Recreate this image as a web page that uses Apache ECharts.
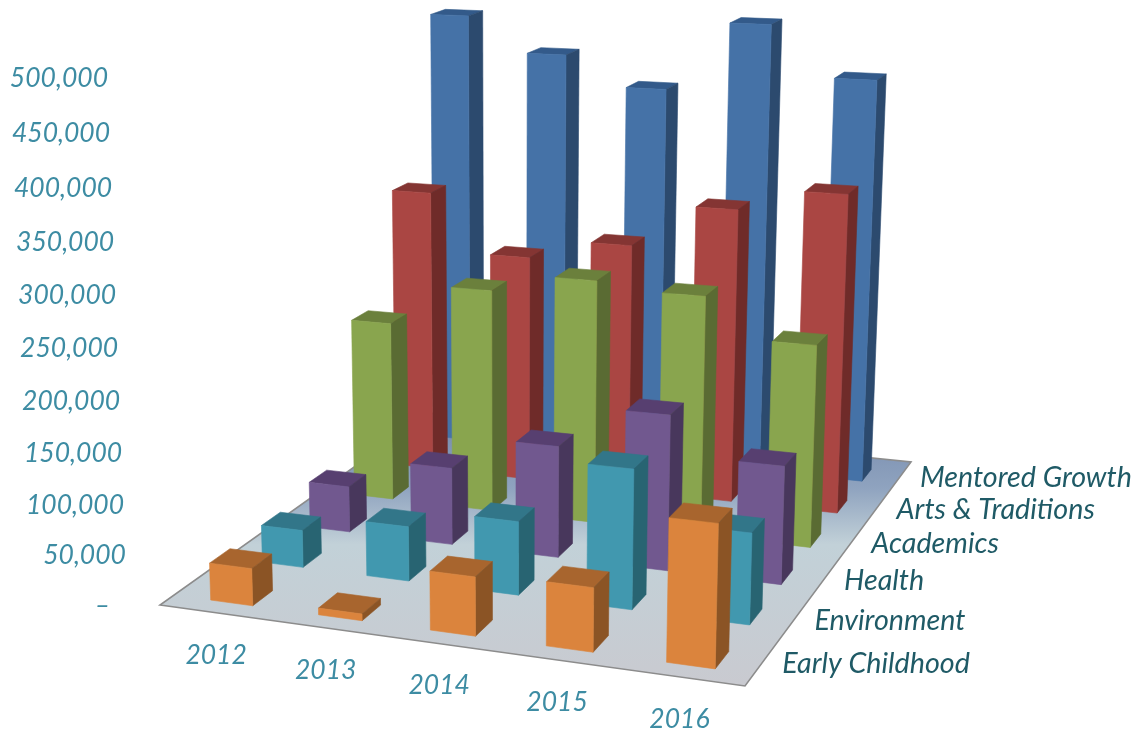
<!DOCTYPE html>
<html><head><meta charset="utf-8">
<style>html,body{margin:0;padding:0;background:#fff}#c{width:1148px;height:732px}</style>
<script src="https://cdn.jsdelivr.net/npm/echarts@6/dist/echarts.min.js"></script>
</head><body><div id="c"></div>
<script>
var years = ['2012','2013','2014','2015','2016'];
var rowNames = ['Early Childhood','Environment','Health','Academics','Arts & Traditions','Mentored Growth'];
var tickValues = [0,50000,100000,150000,200000,250000,300000,350000,400000,450000,500000];
var tickLabels = ['–','50,000','100,000','150,000','200,000','250,000','300,000','350,000','400,000','450,000','500,000'];
var earlyChildhood = [37000,6600,57000,61000,134000];
var environment = [38000,55000,73200,137000,88500];
var health = [48000,79700,114000,157000,118000];
var academics = [191000,235000,254000,247000,207000];
var artsTraditions = [307000,244600,265700,311000,334000];
var mentoredGrowth = [481000,443000,411000,484000,431000];
var rowValues = [earlyChildhood,environment,health,academics,artsTraditions,mentoredGrowth];
var rowColors = [
 ['#DB843D','#A8652E','#8B5425'],
 ['#4198AF','#327689','#286472'],
 ['#71588F','#573F70','#48375C'],
 ['#89A54E','#6B803C','#5A6B33'],
 ['#AA4643','#843533','#6F2B29'],
 ['#4572A7','#335A8A','#2C4A6E']
];
// perspective frame: floor corners and vertical vanishing point
var A=[160,605],B=[745,686],C=[911,462],D=[430,413],V=[508,10000],yMax=550000,T=0.0531/500000;
var dx1=B[0]-C[0],dx2=D[0]-C[0],sx=A[0]-B[0]+C[0]-D[0],dy1=B[1]-C[1],dy2=D[1]-C[1],sy=A[1]-B[1]+C[1]-D[1];
var den=dx1*dy2-dx2*dy1,g=(sx*dy2-dx2*sy)/den,h=(dx1*sy-sx*dy1)/den;
var a1=B[0]*(1+g)-A[0],b1=D[0]*(1+h)-A[0],a2=B[1]*(1+g)-A[1],b2=D[1]*(1+h)-A[1];
function proj(u,v,val){var t=-T*val,w=1+g*u+h*v+t;return [(a1*u+b1*v+A[0]+t*V[0])/w,(a2*u+b2*v+A[1]+t*V[1])/w];}
var GW=1000,GH=700,barU=0.078,barV=0.064,rowOff=0.042;
function scaleU(api,cat){return api.coord([cat,0])[0]/GW;}
function scaleVal(api,val){return (1-api.coord([0,val])[1]/GH)*yMax;}
function poly(pts,fill){return {type:'polygon',shape:{points:pts},style:{fill:fill,stroke:fill,lineWidth:0.6}};}
function barRender(row){return function(params,api){
  var uc=scaleU(api,api.value(0)),val=scaleVal(api,api.value(1));
  var u0=uc-barU/2,u1=uc+barU/2,v0=rowOff+row/6,v1=v0+barV,c=rowColors[row];
  var p=function(u,v,y){return proj(u,v,y);};
  return {type:'group',children:[
    poly([p(u0,v0,val),p(u1,v0,val),p(u1,v1,val),p(u0,v1,val)],c[1]),
    poly([p(u1,v0,0),p(u1,v1,0),p(u1,v1,val),p(u1,v0,val)],c[2]),
    poly([p(u0,v0,0),p(u1,v0,0),p(u1,v0,val),p(u0,v0,val)],c[0])
  ]};
};}
var FONT='italic 400 26.5px Lato';
var series=[];
series.push({type:'custom',coordinateSystem:'cartesian2d',silent:true,clip:false,data:[[0,0]],renderItem:function(){
  return {type:'polygon',shape:{points:[A,B,C,D]},style:{stroke:'#8c8c8c',lineWidth:1.6,lineJoin:'miter',
    fill:{type:'linear',global:true,x:0,y:403,x2:0,y2:686,colorStops:[{offset:0,color:'#6f84a8'},{offset:0.3,color:'#8fa3bf'},{offset:0.5,color:'#c2d1d8'},{offset:1,color:'#c9cad0'}]}}};
}});
for(var r=5;r>=0;r--){
  series.push({type:'custom',name:rowNames[r],coordinateSystem:'cartesian2d',silent:true,clip:false,
    data:rowValues[r].map(function(v,i){return [i,v];}),renderItem:barRender(r)});
}
// value-axis labels
series.push({type:'custom',coordinateSystem:'cartesian2d',silent:true,clip:false,
  data:tickValues.map(function(v,i){return [0,v,i];}),
  renderItem:function(p,api){var val=scaleVal(api,api.value(1)),i=api.value(2),q=proj(0,0,val);
    var right=i===0?110:108+(q[1]-78)*0.0377;
    return {type:'text',style:{text:tickLabels[i],x:right,y:q[1]+(i>0&&i<4?1:0),align:'right',verticalAlign:'middle',font:FONT,fill:'#3D8CA3'}};}});
// year labels
series.push({type:'custom',coordinateSystem:'cartesian2d',silent:true,clip:false,
  data:years.map(function(y,i){return [i,0];}),
  renderItem:function(p,api){var i=api.value(0),q=proj(scaleU(api,i),0,0);
    return {type:'text',style:{text:years[i],x:q[0]-2,y:q[1]+42,align:'center',verticalAlign:'middle',font:FONT,fill:'#3D8CA3'}};}});
// row labels
series.push({type:'custom',coordinateSystem:'cartesian2d',silent:true,clip:false,
  data:rowNames.map(function(n,i){return [0,0,i];}),
  renderItem:function(p,api){var i=api.value(2),q=proj(1,(i+0.5)/6,0);
    return {type:'text',style:{text:rowNames[i],x:q[0]+20,y:q[1]+1,align:'left',verticalAlign:'middle',font:'italic 400 28.7px Lato',fill:'#1F5A66'}};}});
var chart=echarts.init(document.getElementById('c'));
chart.setOption({animation:false,backgroundColor:'#fff',
  grid:{left:9,top:0,width:990,height:GH,containLabel:false},
  xAxis:{type:'category',data:years,show:false},
  yAxis:{type:'value',min:0,max:yMax,interval:50000,show:false},
  series:series});
</script></body></html>
